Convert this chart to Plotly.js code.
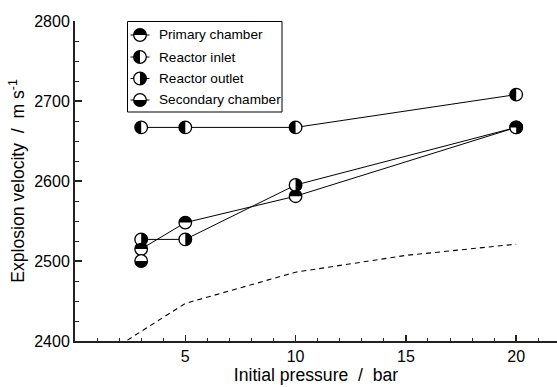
<!DOCTYPE html>
<html><head><meta charset="utf-8">
<script src="https://cdn.plot.ly/plotly-3.0.1.min.js"></script>
<style>html,body{margin:0;padding:0;background:#fff}</style>
</head><body><div id="chart" style="width:557px;height:387px"></div>
<script>
const pressure = [3, 5, 10, 20];
const primaryChamber = [2515, 2548, 2581, 2667];
const reactorInlet = [2667, 2667, 2667, 2708];
const reactorOutlet = [2527, 2527, 2595, 2667];
const secondaryPressure = [3];
const secondaryChamber = [2500];
const theoryPressure = [1, 5, 10, 15, 20];
const theoryVelocity = [2377, 2447, 2486, 2507, 2521];
const seriesNames = ['Primary chamber', 'Reactor inlet', 'Reactor outlet', 'Secondary chamber'];
const xTickVals = [5, 10, 15, 20];
const xTickText = ['5', '10', '15', '20'];

const FONT = 'Liberation Sans, Arial, sans-serif';
const R = 6.3;
function halfPath(side) {
  const k = 0.5523 * R;
  if (side === 'top') return `M ${-R},0 C ${-R},${k} ${-k},${R} 0,${R} C ${k},${R} ${R},${k} ${R},0 Z`;
  if (side === 'bottom') return `M ${-R},0 C ${-R},${-k} ${-k},${-R} 0,${-R} C ${k},${-R} ${R},${-k} ${R},0 Z`;
  if (side === 'left') return `M 0,${-R} C ${-k},${-R} ${-R},${-k} ${-R},0 C ${-R},${k} ${-k},${R} 0,${R} Z`;
  return `M 0,${-R} C ${k},${-R} ${R},${-k} ${R},0 C ${R},${k} ${k},${R} 0,${R} Z`;
}

const series = [
  {name: seriesNames[0], x: pressure, y: primaryChamber, side: 'top'},
  {name: seriesNames[1], x: pressure, y: reactorInlet, side: 'left'},
  {name: seriesNames[2], x: pressure, y: reactorOutlet, side: 'right'},
  {name: seriesNames[3], x: secondaryPressure, y: secondaryChamber, side: 'bottom'}
];

const markerStyle = {symbol: 'circle', size: 12.6, color: 'white', line: {color: 'black', width: 1.3}};
const traces = [{
  x: theoryPressure, y: theoryVelocity, mode: 'lines', name: 'theory',
  line: {color: 'black', width: 1.1, dash: '5px,4px'}, showlegend: false, hoverinfo: 'skip'
}];
series.forEach(s => traces.push({
  x: s.x, y: s.y, name: s.name, mode: 'lines+markers',
  line: {color: 'black', width: 1}, marker: markerStyle, showlegend: false, cliponaxis: false
}));

const shapes = [];
series.forEach(s => s.x.forEach((xv, i) => shapes.push({
  type: 'path', xref: 'x', yref: 'y', xsizemode: 'pixel', ysizemode: 'pixel',
  xanchor: xv, yanchor: s.y[i], path: halfPath(s.side), fillcolor: 'black', line: {width: 0}, layer: 'above'
})));

// legend (manual)
const plotL = 75, plotW = 482, plotT = 21, plotH = 320;
const px = v => (v - plotL) / plotW;
const py = v => (plotT + plotH - v) / plotH;
shapes.push({type: 'rect', xref: 'paper', yref: 'paper', x0: px(127.5), x1: px(282), y0: py(112), y1: py(21.5),
  line: {color: 'black', width: 1}, fillcolor: 'white', layer: 'above'});
const legY = [35, 57, 78.5, 100];
const annotations = [];
series.forEach((s, i) => {
  const gx = px(140), gy = py(legY[i]);
  shapes.push({type: 'line', xref: 'paper', yref: 'paper', xsizemode: 'pixel', xanchor: gx, x0: -9.5, x1: 9.5, y0: gy, y1: gy,
    line: {color: 'black', width: 1}, layer: 'above'});
  shapes.push({type: 'circle', xref: 'paper', yref: 'paper', xsizemode: 'pixel', ysizemode: 'pixel', xanchor: gx, yanchor: gy,
    x0: -6.3, x1: 6.3, y0: -6.3, y1: 6.3, fillcolor: 'white', line: {color: 'black', width: 1.3}, layer: 'above'});
  shapes.push({type: 'path', xref: 'paper', yref: 'paper', xsizemode: 'pixel', ysizemode: 'pixel', xanchor: gx, yanchor: gy,
    path: halfPath(s.side), fillcolor: 'black', line: {width: 0}, layer: 'above'});
  annotations.push({xref: 'paper', yref: 'paper', x: px(156.5), y: gy, xanchor: 'left', yanchor: 'middle',
    text: s.name, showarrow: false, font: {family: FONT, size: 13.6, color: 'black'}});
});

const layout = {
  width: 557, height: 387,
  margin: {l: plotL, r: 0, t: plotT, b: 46},
  paper_bgcolor: 'white', plot_bgcolor: 'white',
  showlegend: false,
  font: {family: FONT, color: 'black'},
  xaxis: {
    range: [0, 21.85], showgrid: false, zeroline: false,
    showline: true, linecolor: '#222', linewidth: 2,
    tickmode: 'array', tickvals: xTickVals, ticktext: xTickText,
    ticks: 'inside', ticklen: 6, tickwidth: 1.5, tickcolor: '#222',
    minor: {tickmode: 'linear', tick0: 0, dtick: 1, ticks: 'inside', ticklen: 3.5, tickwidth: 1, tickcolor: '#222'},
    tickfont: {family: FONT, size: 16, color: 'black'},
    title: {text: 'Initial pressure\u00a0\u00a0/\u00a0\u00a0bar', font: {family: FONT, size: 17.6, color: 'black'}, standoff: 3}
  },
  yaxis: {
    range: [2400, 2800], showgrid: false, zeroline: false,
    showline: true, linecolor: '#222', linewidth: 2,
    tickmode: 'linear', tick0: 2400, dtick: 100,
    ticks: 'inside', ticklen: 7, tickwidth: 1.5, tickcolor: '#222',
    minor: {tickmode: 'linear', tick0: 2400, dtick: 25, ticks: 'inside', ticklen: 4, tickwidth: 1, tickcolor: '#222'},
    tickfont: {family: FONT, size: 16, color: 'black'},
    title: {text: 'Explosion velocity\u00a0\u00a0/\u00a0\u00a0m s<sup>-1</sup>', font: {family: FONT, size: 17.6, color: 'black'}, standoff: 5}
  },
  shapes: shapes,
  annotations: annotations
};

Plotly.newPlot('chart', traces, layout, {displayModeBar: false, staticPlot: true});
</script>
</body></html>
